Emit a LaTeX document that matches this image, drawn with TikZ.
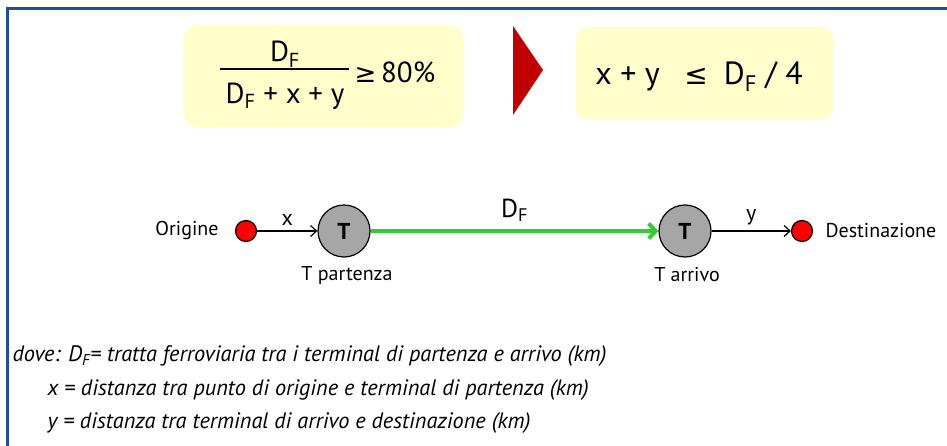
\documentclass[tikz,border=0pt]{standalone}
\usepackage{amsmath}
\usepackage{fontspec}
\setmainfont{PT Sans}
\newfontfamily\symfont{DejaVu Sans}
\usetikzlibrary{arrows.meta}
\definecolor{frameblue}{RGB}{31,78,160}
\definecolor{boxyellow}{RGB}{255,255,204}
\definecolor{darkred}{RGB}{192,0,0}
\definecolor{railgreen}{RGB}{51,204,51}
\definecolor{termgray}{RGB}{166,166,166}
\newcommand{\DF}{D$_{\text{F}}$}
\begin{document}
\begin{tikzpicture}[x=1pt,y=-1pt,
	fbox/.style={fill=boxyellow, rounded corners=12pt, inner sep=0pt},
	big/.style={font=\fontsize{29}{34}\selectfont},
	lbl/.style={font=\fontsize{20}{24}\selectfont},
	endpt/.style={circle, draw, fill=red, line width=1.2pt, minimum size=21pt, inner sep=0pt},
	terminal/.style={circle, draw, fill=termgray, line width=1.2pt, minimum size=52pt, inner sep=0pt, font=\fontsize{23}{26}\selectfont\bfseries},
	note/.style={anchor=west, font=\fontsize{22.3}{26}\selectfont\itshape}]
	\useasboundingbox (0,0) rectangle (947,446);
	% Frame
	\draw[frameblue, line width=3pt] (7,446) -- (7,9) -- (947,9);
	% Left formula
	\node[fbox, minimum width=279pt, minimum height=102pt] (ratiobox) at (323.5,76) {};
	\node[big] (num) at (285,54) {\DF};
	\node[big] (den) at (285,96) {\DF{} + x + y};
	\coordinate (barL) at (220,69);
	\coordinate (barR) at (349,69);
	\draw[line width=1.3pt] (barL) -- (barR);
	\node[big, anchor=west] (pct) at (351,72) {{\symfont\fontsize{26}{30}\selectfont ≥}\,80\%};
	% Arrow between formulas
	\fill[darkred] (513,26) -- (543,70) -- (513,115) -- cycle;
	% Right formula
	\node[fbox, minimum width=257pt, minimum height=93pt] (limitbox) at (704.5,73.5) {};
	\node[big, font=\fontsize{32}{36}\selectfont] (limit) at (699,77) {x + y \enspace{\symfont\fontsize{28}{32}\selectfont ≤}\enspace \DF{} / 4};
	% Route
	\node[endpt] (orig) at (246,231) {};
	\node[terminal] (tp) at (344,231) {T};
	\node[terminal] (ta) at (685,231) {T};
	\node[endpt] (dest) at (802,231) {};
	\node[lbl, anchor=east] (origlbl) at (222,231) {Origine};
	\node[lbl, anchor=west] (destlbl) at (822,231) {Destinazione};
	\node[lbl] (tplbl) at (347,275) {T partenza};
	\node[lbl] (talbl) at (687,275) {T arrivo};
	\draw[line width=1.2pt, -{Straight Barb[length=6pt,width=11pt]}] (orig) -- (tp) node[midway, above=2pt, font=\fontsize{22}{24}\selectfont] (xlbl) {x};
	\draw[line width=1.2pt, -{Straight Barb[length=6pt,width=11pt]}] (ta) -- (dest) node[midway, above=2pt, font=\fontsize{22}{24}\selectfont] (ylbl) {y};
	\draw[railgreen, line width=4pt, -{Straight Barb[length=7pt,width=15pt]}] (tp) -- (ta) node[midway, above=4pt, font=\fontsize{26}{30}\selectfont, black] (dflbl) {\DF};
	% Notes
	\node[note] (n1) at (9,356) {dove: \DF= tratta ferroviaria tra i terminal di partenza e arrivo (km)};
	\node[note] (n2) at (44,390) {x = distanza tra punto di origine e terminal di partenza (km)};
	\node[note] (n3) at (44,423) {y = distanza tra terminal di arrivo e destinazione (km)};
\end{tikzpicture}
\end{document}
